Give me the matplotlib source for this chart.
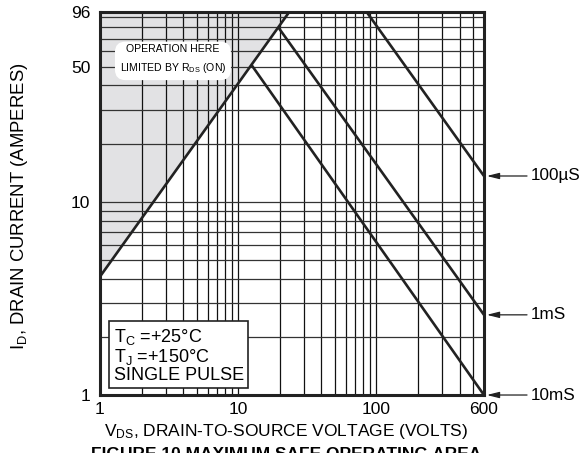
import matplotlib
matplotlib.use("Agg")
import matplotlib.pyplot as plt
import matplotlib.ticker as mticker
import numpy as np

plt.rcParams['font.family'] = ['Liberation Sans', 'DejaVu Sans']
plt.rcParams['mathtext.fontset'] = 'custom'
plt.rcParams['mathtext.rm'] = 'Liberation Sans'
plt.rcParams['mathtext.it'] = 'Liberation Sans'

# safe operating area boundaries (V_DS in volts, I_D in amperes)
v_rds = [1, 23.4]
i_rds = [4.1, 96]
v_100us = [23.4, 85, 600]
i_100us = [96, 96, 13.6]
v_1ms = [19.5, 600]
i_1ms = [80, 2.6]
v_10ms = [12.5, 600]
i_10ms = [51, 1.0]

x_ticks = [1, 10, 100, 600]
y_ticks = [1, 10, 50, 96]
pulse_labels = ['100\u00b5S', '1mS', '10mS']
pulse_ends = [13.6, 2.6, 1.0]

fig = plt.figure(figsize=(5.84, 4.53), dpi=100)
ax = fig.add_axes([0.1712, 0.128, 0.6575, 0.8455])
ax.set_xscale('log')
ax.set_yscale('log')
ax.set_xlim(1, 600)
ax.set_ylim(1, 96)

# shaded region limited by R_DS(on)
vv = np.array(v_rds)
ax.fill_between(vv, i_rds, 96, color='#e2e2e4', zorder=0.5, lw=0)

ax.xaxis.set_major_locator(mticker.FixedLocator(x_ticks))
ax.yaxis.set_major_locator(mticker.FixedLocator(y_ticks))
ax.xaxis.set_major_formatter(mticker.FixedFormatter([str(t) for t in x_ticks]))
ax.yaxis.set_major_formatter(mticker.FixedFormatter([str(t) for t in y_ticks]))
ax.xaxis.set_minor_locator(mticker.LogLocator(base=10, subs=np.arange(1, 10)))
ax.yaxis.set_minor_locator(mticker.LogLocator(base=10, subs=np.arange(1, 10)))
ax.xaxis.set_minor_formatter(mticker.NullFormatter())
ax.yaxis.set_minor_formatter(mticker.NullFormatter())
ax.grid(True, which='both', axis='x', color='#111111', lw=0.9, zorder=1)
ax.grid(True, which='both', axis='y', color='#333333', lw=0.9, zorder=1)
ax.set_axisbelow(True)
ax.tick_params(which='both', length=0)
ax.tick_params(axis='x', pad=5, labelsize=12.5)
ax.tick_params(axis='y', pad=7, labelsize=12.5)
for s in ax.spines.values():
    s.set_linewidth(2.2)
    s.set_color('#222222')
    s.set_zorder(5)

for v, i in [(v_rds, i_rds), (v_100us, i_100us), (v_1ms, i_1ms), (v_10ms, i_10ms)]:
    ax.plot(v, i, color='#222222', lw=1.9, zorder=3, solid_capstyle='butt')

ax.text(0.19, 0.875, 'OPERATION HERE\nLIMITED BY R$_{\\mathregular{DS}}$ (ON)',
        transform=ax.transAxes, ha='center', va='center', fontsize=7.6,
        linespacing=1.7, zorder=4,
        bbox=dict(boxstyle='round,pad=0.45,rounding_size=1.0', fc='white', ec='none'))

ax.text(0.036, 0.03, 'T$_{\\mathregular{C}}$ =+25\u00b0C\nT$_{\\mathregular{J}}$ =+150\u00b0C\nSINGLE PULSE',
        transform=ax.transAxes, ha='left', va='bottom', fontsize=13,
        linespacing=1.0, zorder=4,
        bbox=dict(boxstyle='square,pad=0.25', fc='white', ec='#222222', lw=1.2))

for lab, y in zip(pulse_labels, pulse_ends):
    ax.annotate(lab, xy=(600, y), xycoords='data', xytext=(34, 0),
                textcoords='offset points', ha='left', va='center', fontsize=12.3,
                annotation_clip=False,
                arrowprops=dict(arrowstyle='-|>,head_length=0.6,head_width=0.15',
                                color='#222222', lw=0.9, shrinkA=1, shrinkB=2))

fig.text(0.034, 0.545, 'I$_{\\mathregular{D}}$, DRAIN CURRENT (AMPERES)', rotation=90,
         ha='center', va='center', fontsize=13.3)
fig.text(0.49, 0.047, 'V$_{\\mathregular{DS}}$, DRAIN-TO-SOURCE VOLTAGE (VOLTS)',
         ha='center', va='center', fontsize=12.5)
fig.text(0.49, -0.004, 'FIGURE 10 MAXIMUM SAFE OPERATING AREA',
         ha='center', va='center', fontsize=12.5, fontweight='bold')

fig.savefig('out.png', dpi=100)
